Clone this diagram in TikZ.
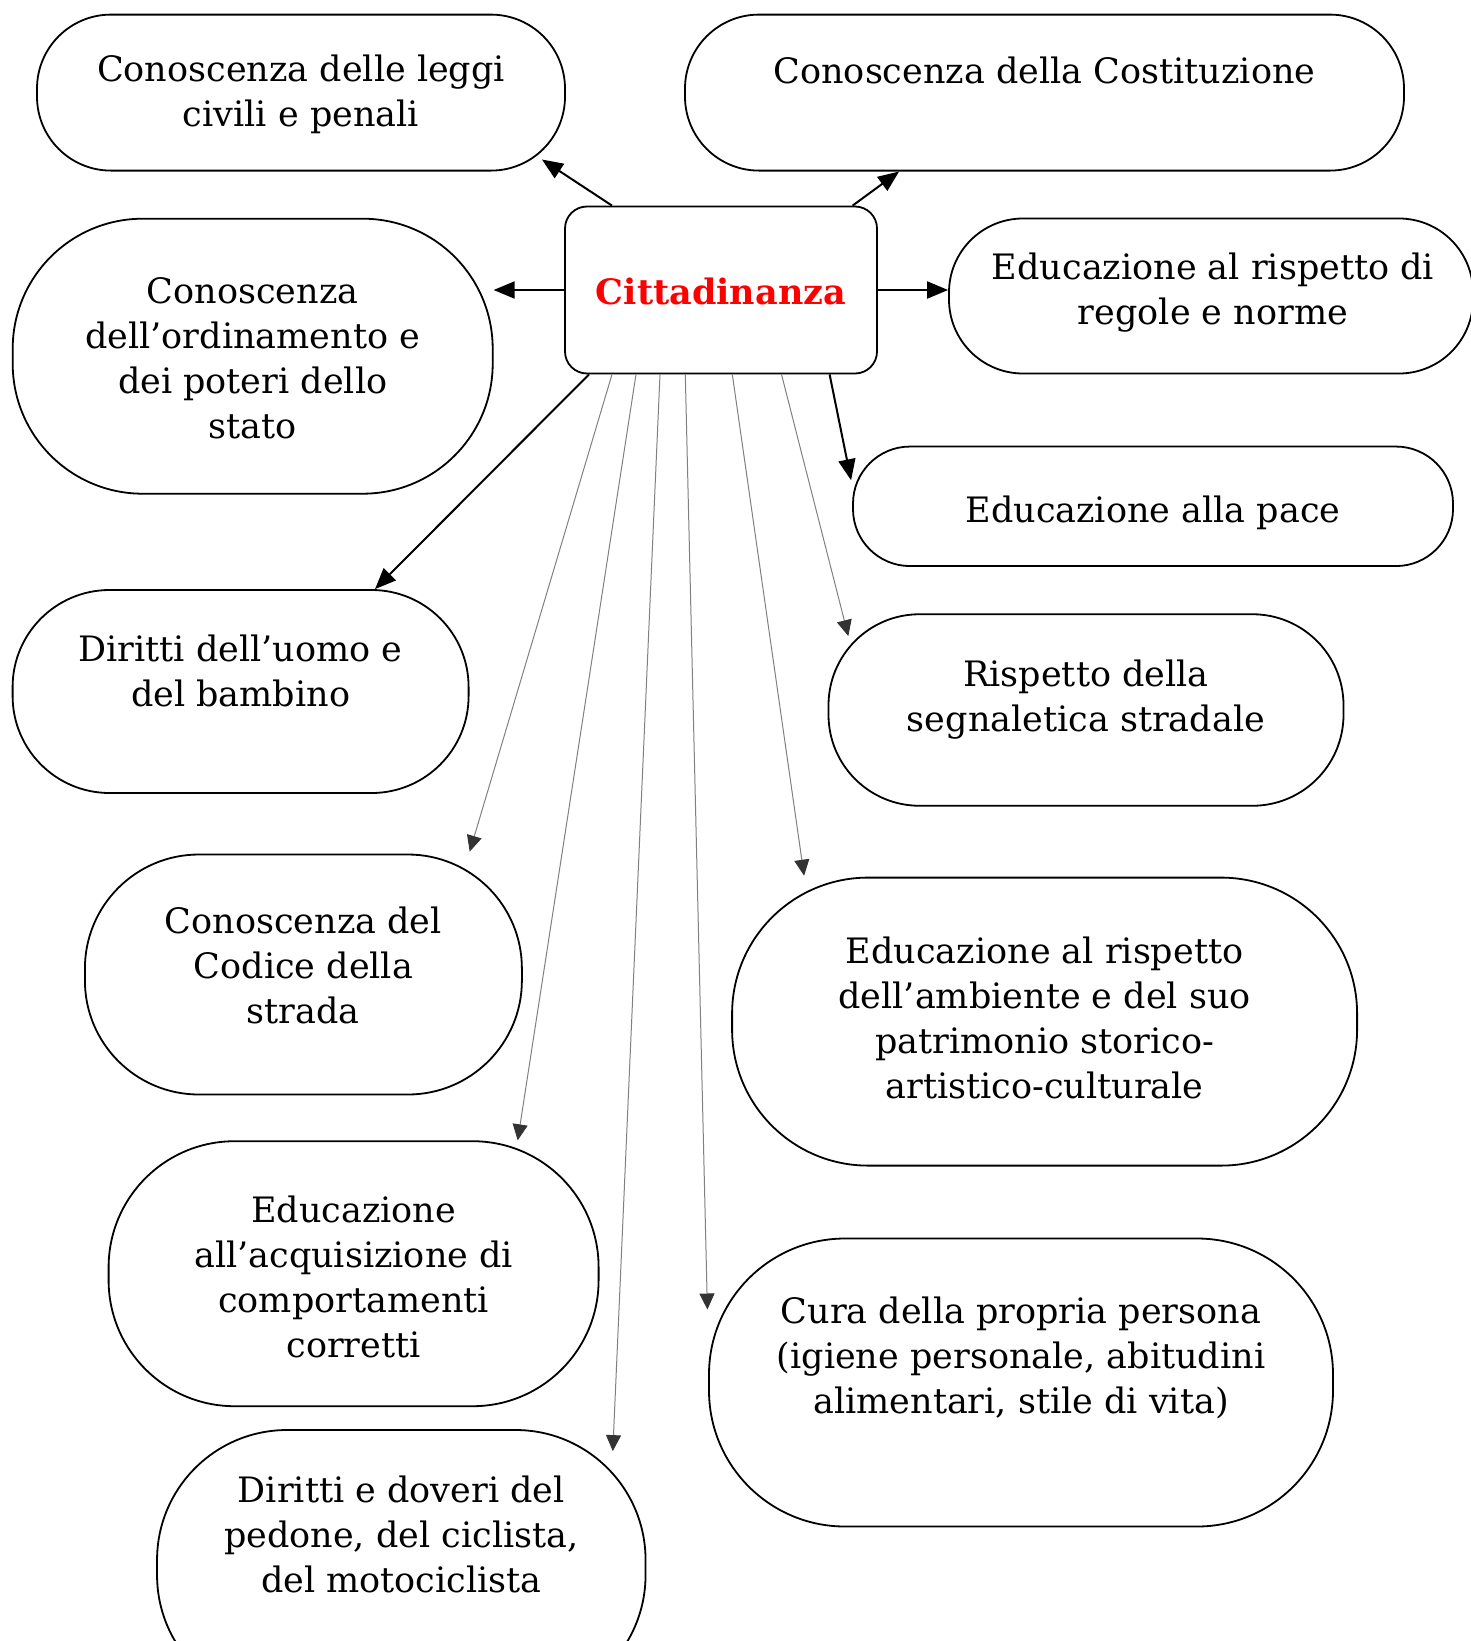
\documentclass[tikz,border=0pt]{standalone}
\usepackage{fontspec}
\setmainfont{DejaVu Serif}
\usetikzlibrary{arrows.meta}

\begin{document}
\begin{tikzpicture}[x=1pt, y=-1pt]
\tikzstyle{bubble}=[draw, line width=1.8pt, inner sep=0pt]
\tikzstyle{txt}=[align=center, inner sep=0pt, font=\fontsize{35}{45}\selectfont]
\tikzstyle{link}=[line width=2pt, -{Triangle[length=21pt, width=17pt]}]
\tikzstyle{thin}=[line width=1pt, draw=black!50, -{Triangle[length=16pt, width=15pt, color=black!80]}]

\useasboundingbox (0,0) rectangle (1471,1641);

% centro
\node[bubble, minimum width=312pt, minimum height=167pt, rounded corners=22pt] (citt) at (721,290) {};
\node[txt, text=red, font=\fontsize{35}{45}\selectfont\bfseries] (citt-t) at (721,291.5) {Cittadinanza};

% riquadri
\node[bubble, minimum width=528pt, minimum height=156pt, rounded corners=74pt] (leggi) at (301,92.6) {};
\node[txt] (leggi-t) at (301,94) {Conoscenza delle leggi\\civili e penali};

\node[bubble, minimum width=719pt, minimum height=156pt, rounded corners=74pt] (costit) at (1044.5,92.6) {};
\node[txt] (costit-t) at (1044.5,70.5) {Conoscenza della Costituzione};

\node[bubble, minimum width=480pt, minimum height=275pt, rounded corners=130pt] (ordin) at (252.7,356.2) {};
\node[txt] (ordin-t) at (252.7,358.5) {Conoscenza\\dell’ordinamento e\\dei poteri dello\\stato};

\node[bubble, minimum width=524pt, minimum height=155pt, rounded corners=74pt] (regole) at (1211,296) {};
\node[txt] (regole-t) at (1213,292.5) {Educazione al rispetto di\\regole e norme};

\node[bubble, minimum width=600pt, minimum height=119.5pt, rounded corners=57pt] (pace) at (1153,506.3) {};
\node[txt] (pace-t) at (1153,513) {Educazione alla pace};

\node[bubble, minimum width=456pt, minimum height=203pt, rounded corners=97pt] (uomo) at (240.6,691.5) {};
\node[txt] (uomo-t) at (240.6,670.5) {Diritti dell’uomo e\\del bambino};

\node[bubble, minimum width=515pt, minimum height=191.5pt, rounded corners=91pt] (segn) at (1086,710) {};
\node[txt] (segn-t) at (1086,699.5) {Rispetto della\\segnaletica stradale};

\node[bubble, minimum width=437pt, minimum height=240pt, rounded corners=114pt] (codice) at (303.4,974.5) {};
\node[txt] (codice-t) at (303.4,965.5) {Conoscenza del\\Codice della\\strada};

\node[bubble, minimum width=625pt, minimum height=288pt, rounded corners=136pt] (ambiente) at (1044.6,1021.6) {};
\node[txt] (ambiente-t) at (1044.6,1017.5) {Educazione al rispetto\\dell’ambiente e del suo\\patrimonio storico-\\artistico-culturale};

\node[bubble, minimum width=490pt, minimum height=265pt, rounded corners=126pt] (comport) at (353.6,1273.7) {};
\node[txt] (comport-t) at (353.6,1276.5) {Educazione\\all’acquisizione di\\comportamenti\\corretti};

\node[bubble, minimum width=624pt, minimum height=288pt, rounded corners=136pt] (cura) at (1021,1382.5) {};
\node[txt] (cura-t) at (1021,1357.5) {Cura della propria persona\\(igiene personale, abitudini\\alimentari, stile di vita)};

\node[bubble, minimum width=488.5pt, minimum height=275pt, rounded corners=130pt] (pedone) at (401.3,1567.5) {};
\node[txt] (pedone-t) at (401.3,1534.5) {Diritti e doveri del\\pedone, del ciclista,\\del motociclista};

% frecce
\draw[link] ([xshift=-109pt]citt.north) -- ([xshift=-24pt,yshift=12pt]leggi.south east);
\draw[link] ([xshift=131.6pt]citt.north) -- ([xshift=215pt]costit.south west);
\draw[link] (citt.west) -- (ordin.east |- citt.west);
\draw[link] (citt.east) -- (regole.west |- citt.east);
\draw[link] ([xshift=108.6pt]citt.south) -- ([xshift=-1pt,yshift=26pt]pace.west);
\draw[link] ([xshift=-132pt]citt.south) -- ([xshift=134.4pt]uomo.north);

\draw[thin] ([xshift=60.5pt]citt.south) -- ([xshift=20.7pt,yshift=-22.7pt]segn.north west);
\draw[thin] ([xshift=-109pt]citt.south) -- ([xshift=166.3pt,yshift=2pt]codice.north);
\draw[thin] ([xshift=11.3pt]citt.south) -- ([xshift=72.9pt,yshift=1pt]ambiente.north west);
\draw[thin] ([xshift=-85pt]citt.south) -- ([xshift=164.1pt]comport.north);
\draw[thin] ([xshift=-35.7pt]citt.south) -- ([xshift=-0.7pt,yshift=73pt]cura.west);
\draw[thin] ([xshift=-61pt]citt.south) -- ([xshift=211.5pt,yshift=-22pt]pedone.north);

\end{tikzpicture}
\end{document}
